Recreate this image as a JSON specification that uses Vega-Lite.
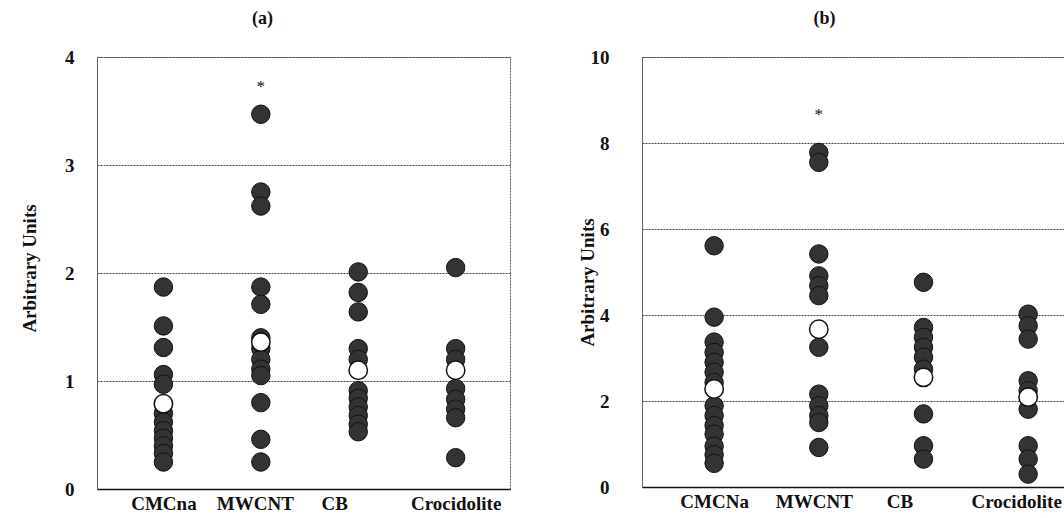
{
  "$schema": "https://vega.github.io/schema/vega-lite/v6.json",
  "padding": {"left": 19, "top": 9, "right": 0, "bottom": 0},
  "background": "white",
  "datasets": {
    "a": [
      {"group": "CMCna", "value": 1.87, "type": "dot"},
      {"group": "CMCna", "value": 1.51, "type": "dot"},
      {"group": "CMCna", "value": 1.31, "type": "dot"},
      {"group": "CMCna", "value": 1.06, "type": "dot"},
      {"group": "CMCna", "value": 0.97, "type": "dot"},
      {"group": "CMCna", "value": 0.70, "type": "dot"},
      {"group": "CMCna", "value": 0.62, "type": "dot"},
      {"group": "CMCna", "value": 0.54, "type": "dot"},
      {"group": "CMCna", "value": 0.47, "type": "dot"},
      {"group": "CMCna", "value": 0.40, "type": "dot"},
      {"group": "CMCna", "value": 0.33, "type": "dot"},
      {"group": "CMCna", "value": 0.25, "type": "dot"},
      {"group": "CMCna", "value": 0.79, "type": "mean"},
      {"group": "MWCNT", "value": 3.47, "type": "dot"},
      {"group": "MWCNT", "value": 2.75, "type": "dot"},
      {"group": "MWCNT", "value": 2.62, "type": "dot"},
      {"group": "MWCNT", "value": 1.87, "type": "dot"},
      {"group": "MWCNT", "value": 1.71, "type": "dot"},
      {"group": "MWCNT", "value": 1.40, "type": "dot"},
      {"group": "MWCNT", "value": 1.30, "type": "dot"},
      {"group": "MWCNT", "value": 1.20, "type": "dot"},
      {"group": "MWCNT", "value": 1.11, "type": "dot"},
      {"group": "MWCNT", "value": 1.05, "type": "dot"},
      {"group": "MWCNT", "value": 0.80, "type": "dot"},
      {"group": "MWCNT", "value": 0.46, "type": "dot"},
      {"group": "MWCNT", "value": 0.25, "type": "dot"},
      {"group": "MWCNT", "value": 1.36, "type": "mean"},
      {"group": "MWCNT", "value": 3.72, "type": "star", "label": "*"},
      {"group": "CB", "value": 2.01, "type": "dot"},
      {"group": "CB", "value": 1.82, "type": "dot"},
      {"group": "CB", "value": 1.64, "type": "dot"},
      {"group": "CB", "value": 1.30, "type": "dot"},
      {"group": "CB", "value": 1.20, "type": "dot"},
      {"group": "CB", "value": 0.91, "type": "dot"},
      {"group": "CB", "value": 0.84, "type": "dot"},
      {"group": "CB", "value": 0.76, "type": "dot"},
      {"group": "CB", "value": 0.68, "type": "dot"},
      {"group": "CB", "value": 0.60, "type": "dot"},
      {"group": "CB", "value": 0.53, "type": "dot"},
      {"group": "CB", "value": 1.10, "type": "mean"},
      {"group": "Crocidolite", "value": 2.05, "type": "dot"},
      {"group": "Crocidolite", "value": 1.30, "type": "dot"},
      {"group": "Crocidolite", "value": 1.20, "type": "dot"},
      {"group": "Crocidolite", "value": 0.93, "type": "dot"},
      {"group": "Crocidolite", "value": 0.83, "type": "dot"},
      {"group": "Crocidolite", "value": 0.74, "type": "dot"},
      {"group": "Crocidolite", "value": 0.66, "type": "dot"},
      {"group": "Crocidolite", "value": 0.29, "type": "dot"},
      {"group": "Crocidolite", "value": 1.10, "type": "mean"}
    ],
    "b": [
      {"group": "CMCNa", "value": 5.61, "type": "dot"},
      {"group": "CMCNa", "value": 3.95, "type": "dot"},
      {"group": "CMCNa", "value": 3.37, "type": "dot"},
      {"group": "CMCNa", "value": 3.13, "type": "dot"},
      {"group": "CMCNa", "value": 2.90, "type": "dot"},
      {"group": "CMCNa", "value": 2.67, "type": "dot"},
      {"group": "CMCNa", "value": 2.43, "type": "dot"},
      {"group": "CMCNa", "value": 1.89, "type": "dot"},
      {"group": "CMCNa", "value": 1.66, "type": "dot"},
      {"group": "CMCNa", "value": 1.43, "type": "dot"},
      {"group": "CMCNa", "value": 1.23, "type": "dot"},
      {"group": "CMCNa", "value": 0.95, "type": "dot"},
      {"group": "CMCNa", "value": 0.75, "type": "dot"},
      {"group": "CMCNa", "value": 0.55, "type": "dot"},
      {"group": "CMCNa", "value": 2.28, "type": "mean"},
      {"group": "MWCNT", "value": 7.78, "type": "dot"},
      {"group": "MWCNT", "value": 7.55, "type": "dot"},
      {"group": "MWCNT", "value": 5.42, "type": "dot"},
      {"group": "MWCNT", "value": 4.91, "type": "dot"},
      {"group": "MWCNT", "value": 4.68, "type": "dot"},
      {"group": "MWCNT", "value": 4.45, "type": "dot"},
      {"group": "MWCNT", "value": 3.25, "type": "dot"},
      {"group": "MWCNT", "value": 2.16, "type": "dot"},
      {"group": "MWCNT", "value": 1.89, "type": "dot"},
      {"group": "MWCNT", "value": 1.66, "type": "dot"},
      {"group": "MWCNT", "value": 1.50, "type": "dot"},
      {"group": "MWCNT", "value": 0.92, "type": "dot"},
      {"group": "MWCNT", "value": 3.67, "type": "mean"},
      {"group": "MWCNT", "value": 8.65, "type": "star", "label": "*"},
      {"group": "CB", "value": 4.76, "type": "dot"},
      {"group": "CB", "value": 3.71, "type": "dot"},
      {"group": "CB", "value": 3.48, "type": "dot"},
      {"group": "CB", "value": 3.25, "type": "dot"},
      {"group": "CB", "value": 3.02, "type": "dot"},
      {"group": "CB", "value": 2.74, "type": "dot"},
      {"group": "CB", "value": 1.70, "type": "dot"},
      {"group": "CB", "value": 0.96, "type": "dot"},
      {"group": "CB", "value": 0.65, "type": "dot"},
      {"group": "CB", "value": 2.55, "type": "mean"},
      {"group": "Crocidolite", "value": 4.02, "type": "dot"},
      {"group": "Crocidolite", "value": 3.75, "type": "dot"},
      {"group": "Crocidolite", "value": 3.44, "type": "dot"},
      {"group": "Crocidolite", "value": 2.47, "type": "dot"},
      {"group": "Crocidolite", "value": 2.24, "type": "dot"},
      {"group": "Crocidolite", "value": 1.81, "type": "dot"},
      {"group": "Crocidolite", "value": 0.96, "type": "dot"},
      {"group": "Crocidolite", "value": 0.65, "type": "dot"},
      {"group": "Crocidolite", "value": 0.30, "type": "dot"},
      {"group": "Crocidolite", "value": 2.09, "type": "mean"}
    ]
  },
  "spacing": 66,
  "hconcat": [
    {
      "width": 413,
      "height": 432,
      "title": {"text": "(a)", "dx": -41},
      "data": {"name": "a"},
      "encoding": {
        "x": {"field": "group", "type": "nominal", "sort": ["CMCna", "MWCNT", "CB", "Crocidolite"],
              "scale": {"type": "point", "padding": 0.62, "align": 0.55},
              "axis": {"title": null,
                       "labelOffset": {"condition": [{"test": "datum.value === 'CB'", "value": -24}, {"test": "datum.value === 'MWCNT'", "value": -6}], "value": 0}}},
        "y": {"field": "value", "type": "quantitative",
              "scale": {"domain": [0, 4], "nice": false, "zero": true},
              "axis": {"values": [0, 1, 2, 3, 4], "title": "Arbitrary Units", "titleX": -58, "titleY": 211, "labelPadding": 23}}
      },
      "layer": [
        {"transform": [{"filter": "datum.type === 'dot'"}],
         "mark": {"type": "circle", "size": 340, "fill": "#333333", "stroke": "#111111", "strokeWidth": 1, "opacity": 1}},
        {"transform": [{"filter": "datum.type === 'mean'"}],
         "mark": {"type": "circle", "size": 340, "fill": "white", "stroke": "#111111", "strokeWidth": 1.5, "opacity": 1}},
        {"transform": [{"filter": "datum.type === 'star'"}],
         "mark": {"type": "text", "font": "Liberation Serif", "fontSize": 17, "baseline": "middle", "color": "#111111"},
         "encoding": {"text": {"field": "label"}}}
      ]
    },
    {
      "width": 425,
      "height": 430,
      "title": {"text": "(b)", "dx": -30},
      "data": {"name": "b"},
      "encoding": {
        "x": {"field": "group", "type": "nominal", "sort": ["CMCNa", "MWCNT", "CB", "Crocidolite"],
              "scale": {"type": "point", "padding": 0.53, "align": 0.65},
              "axis": {"title": null,
                       "labelOffset": {"condition": [{"test": "datum.value === 'CB'", "value": -24}, {"test": "datum.value === 'Crocidolite'", "value": -12}, {"test": "datum.value === 'MWCNT'", "value": -5}], "value": 0}}},
        "y": {"field": "value", "type": "quantitative",
              "scale": {"domain": [0, 10], "nice": false, "zero": true},
              "axis": {"values": [0, 2, 4, 6, 8, 10], "title": "Arbitrary Units", "titleX": -45, "titleY": 225, "labelPadding": 33}}
      },
      "layer": [
        {"transform": [{"filter": "datum.type === 'dot'"}],
         "mark": {"type": "circle", "size": 340, "fill": "#333333", "stroke": "#111111", "strokeWidth": 1, "opacity": 1}},
        {"transform": [{"filter": "datum.type === 'mean'"}],
         "mark": {"type": "circle", "size": 340, "fill": "white", "stroke": "#111111", "strokeWidth": 1.5, "opacity": 1}},
        {"transform": [{"filter": "datum.type === 'star'"}],
         "mark": {"type": "text", "font": "Liberation Serif", "fontSize": 17, "baseline": "middle", "color": "#111111"},
         "encoding": {"text": {"field": "label"}}}
      ]
    }
  ],
  "config": {
    "font": "Liberation Serif",
    "view": {"stroke": "#555555", "strokeDash": [2, 1], "strokeWidth": 1},
    "title": {"font": "Liberation Serif", "fontSize": 18, "fontWeight": "bold", "color": "#111111", "offset": 20, "anchor": "middle"},
    "axis": {
      "labelFont": "Liberation Serif",
      "labelFontSize": 19,
      "labelFontWeight": "bold",
      "labelColor": "#111111",
      "titleFont": "Liberation Serif",
      "titleFontSize": 19,
      "titleFontWeight": "bold",
      "titleColor": "#111111",
      "ticks": false
    },
    "axisX": {"grid": false, "domainColor": "#111111", "domainWidth": 1.5, "labelAngle": 0, "labelPadding": 5},
    "axisY": {"grid": true, "gridColor": "#444444", "gridDash": [2, 1], "gridWidth": 1, "domainColor": "#666666", "domainWidth": 1}
  }
}
